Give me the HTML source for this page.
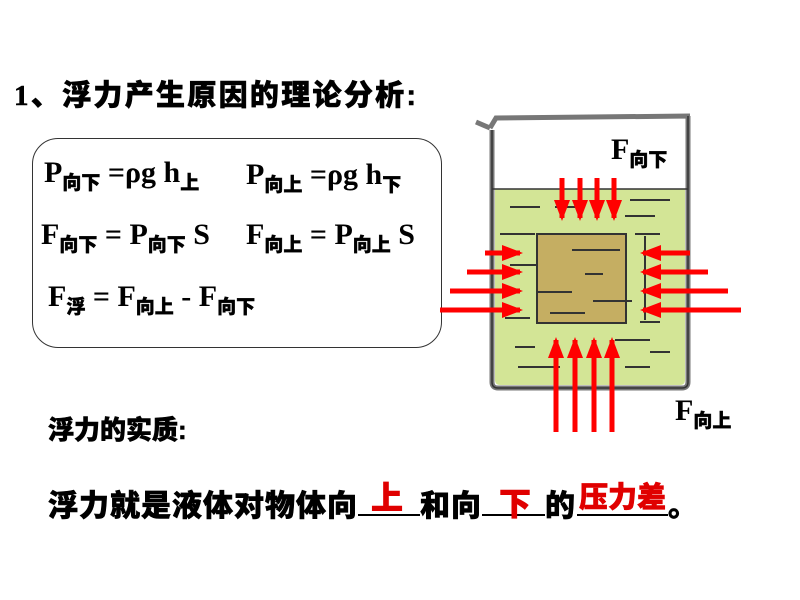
<!DOCTYPE html>
<html><head><meta charset="utf-8"><style>
body{margin:0;width:800px;height:600px;background:#fff;overflow:hidden;position:relative;font-family:"Liberation Sans","Noto Sans CJK SC",sans-serif}
.t{position:absolute;font-weight:900;white-space:nowrap;color:#000;-webkit-text-stroke:0.6px currentColor}
.f{font-family:"Liberation Serif","Noto Sans CJK SC",serif;font-weight:bold;font-size:30px;position:absolute;white-space:nowrap}
.f sub{font-family:"Liberation Sans","Noto Sans CJK SC",sans-serif;font-size:19px;vertical-align:-7px;font-weight:900;-webkit-text-stroke:0.4px #000}
.r{color:#e00000}
</style></head><body>
<div class="t" style="left:14px;top:72px;font-size:29px;letter-spacing:2.3px"><span style="font-family:'Liberation Serif',serif">1</span>、浮力产生原因的理论分析:</div>
<div style="position:absolute;left:32px;top:138px;width:408px;height:208px;border:1.5px solid #333;border-radius:26px"></div>
<div class="f" style="left:44px;top:156px">P<sub>向下</sub> =ρg h<sub>上</sub></div>
<div class="f" style="left:246px;top:158px">P<sub>向上</sub> =ρg h<sub>下</sub></div>
<div class="f" style="left:41px;top:218px">F<sub>向下</sub> = P<sub>向下</sub> S</div>
<div class="f" style="left:246px;top:218px">F<sub>向上</sub> = P<sub>向上</sub> S</div>
<div class="f" style="left:48px;top:280px">F<sub>浮</sub> = F<sub>向上</sub> - F<sub>向下</sub></div>
<svg style="position:absolute;left:0;top:0" width="800" height="600">
<defs><marker id="a" markerWidth="4.2" markerHeight="3.2" refX="3.6" refY="1.6" orient="auto" markerUnits="strokeWidth"><path d="M0,0L4.2,1.6L0,3.2z" fill="#f00"/></marker></defs>
<path d="M490,128 L476,122 M490,128 L496,118 L690,116 M492,130 L492,382 Q492,388 498,388 L682,388 Q688,388 688,382 L688,116" fill="none" stroke="#777" stroke-width="5"/>
<path d="M492,130 L492,382 Q492,388 498,388 L682,388 Q688,388 688,382 L688,116" fill="none" stroke="#333" stroke-width="1.5"/>
<path d="M495,189 L685,189 L685,380 Q685,385 680,385 L500,385 Q495,385 495,380z" fill="#d3e596"/>
<line x1="492" y1="189" x2="688" y2="189" stroke="#333" stroke-width="1.5"/>
<g stroke="#333" stroke-width="2">
<line x1="510" y1="207" x2="540" y2="207"/><line x1="555" y1="207" x2="575" y2="207"/><line x1="630" y1="200" x2="670" y2="200"/>
<line x1="625" y1="216" x2="655" y2="216"/><line x1="500" y1="234" x2="535" y2="234"/><line x1="635" y1="234" x2="660" y2="234"/>
<line x1="510" y1="265" x2="540" y2="265"/><line x1="505" y1="318" x2="530" y2="318"/><line x1="640" y1="322" x2="660" y2="322"/>
<line x1="515" y1="347" x2="535" y2="347"/><line x1="615" y1="340" x2="650" y2="340"/><line x1="650" y1="352" x2="670" y2="352"/>
<line x1="518" y1="367" x2="560" y2="367"/><line x1="625" y1="367" x2="650" y2="367"/><line x1="645" y1="236" x2="645" y2="320"/>
</g>
<rect x="537" y="234" width="89" height="89" fill="#c5ae62" stroke="#333" stroke-width="2"/>
<g stroke="#333" stroke-width="2">
<line x1="572" y1="250" x2="620" y2="250"/><line x1="585" y1="274" x2="603" y2="274"/><line x1="537" y1="292" x2="572" y2="292"/><line x1="593" y1="301" x2="632" y2="301"/><line x1="550" y1="313" x2="585" y2="313"/>
</g>
<g stroke="#f00" stroke-width="5" marker-end="url(#a)">
<line x1="562" y1="178" x2="562" y2="218"/><line x1="580" y1="178" x2="580" y2="218"/><line x1="597" y1="178" x2="597" y2="218"/><line x1="614" y1="178" x2="614" y2="218"/>
<line x1="556" y1="432" x2="556" y2="340"/><line x1="575" y1="432" x2="575" y2="340"/><line x1="594" y1="432" x2="594" y2="340"/><line x1="612" y1="432" x2="612" y2="340"/>
<line x1="485" y1="253" x2="520" y2="253"/><line x1="467" y1="272" x2="520" y2="272"/><line x1="450" y1="291" x2="520" y2="291"/><line x1="440" y1="310" x2="520" y2="310"/>
<line x1="690" y1="253" x2="643" y2="253"/><line x1="708" y1="272" x2="643" y2="272"/><line x1="728" y1="291" x2="643" y2="291"/><line x1="741" y1="310" x2="643" y2="310"/>
</g>
</svg>
<div class="f" style="left:611px;top:133px">F<sub>向下</sub></div>
<div class="f" style="left:675px;top:394px">F<sub>向上</sub></div>
<div class="t" style="left:48px;top:410px;font-size:26px">浮力的实质:</div>
<div class="t" style="left:48px;top:481px;font-size:30px;letter-spacing:1px">浮力就是液体对物体向</div>
<div style="position:absolute;left:358px;top:514px;width:62px;border-top:2px solid #000"></div>
<div class="t" style="left:420px;top:481px;font-size:30px;letter-spacing:1px">和向</div>
<div style="position:absolute;left:482px;top:514px;width:63px;border-top:2px solid #000"></div>
<div class="t" style="left:545px;top:481px;font-size:30px">的</div>
<div style="position:absolute;left:577px;top:514px;width:91px;border-top:2px solid #000"></div>
<div class="t" style="left:668px;top:481px;font-size:30px">。</div>
<div class="t r" style="left:371px;top:473px;font-size:32px">上</div>
<div class="t r" style="left:499px;top:479px;font-size:32px">下</div>
<div class="t r" style="left:579px;top:474px;font-size:29px">压力差</div>
</body></html>
